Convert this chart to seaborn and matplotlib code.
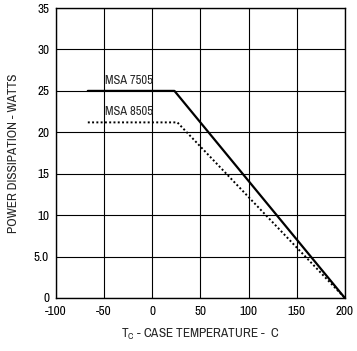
import matplotlib
matplotlib.use("Agg")
import matplotlib.pyplot as plt
import seaborn as sns
import pandas as pd

# Derating curves: case temperature (C) vs. maximum power dissipation (W)
temp_7505 = [-67, 23, 200]
power_7505 = [25.0, 25.0, 0.0]
temp_8505 = [-67, 26, 200]
power_8505 = [21.2, 21.2, 0.0]

x_ticks = [-100, -50, 0, 50, 100, 150, 200]
y_ticks = [0, 5, 10, 15, 20, 25, 30, 35]
y_tick_labels = ["0", "5.0", "10", "15", "20", "25", "30", "35"]

sns.set_theme(style="white")
plt.rcParams["font.family"] = ["Archivo Narrow", "DejaVu Sans"]
plt.rcParams["axes.unicode_minus"] = False

df_a = pd.DataFrame({"temp": temp_7505, "power": power_7505})
df_b = pd.DataFrame({"temp": temp_8505, "power": power_8505})

fig, ax = plt.subplots(figsize=(3.57, 3.51), dpi=100)
fig.subplots_adjust(left=0.157, right=0.966, top=0.977, bottom=0.151)

sns.lineplot(data=df_a, x="temp", y="power", ax=ax, color="black",
             linewidth=1.6, estimator=None, sort=False)
sns.lineplot(data=df_b, x="temp", y="power", ax=ax, color="black",
             linewidth=1.4, linestyle=(0, (1, 1.2)), estimator=None, sort=False)

ax.text(-49, 25.6, "MSA 7505", fontsize=9, ha="left", va="bottom")
ax.text(-49, 21.8, "MSA 8505", fontsize=9, ha="left", va="bottom")

ax.set_xlim(-100, 200)
ax.set_ylim(0, 35)
ax.set_xticks(x_ticks)
ax.set_yticks(y_ticks)
ax.set_yticklabels(y_tick_labels)
ax.tick_params(labelsize=9.5, length=0, colors="black")
ax.tick_params(axis="x", pad=6)
ax.tick_params(axis="y", pad=5)
ax.grid(True, color="black", linewidth=0.8)
for s in ax.spines.values():
    s.set_color("black")
    s.set_linewidth(1.0)

ax.set_xlabel("T$_\\mathregular{C}$ - CASE TEMPERATURE -  C", fontsize=9.5, labelpad=7)
ax.set_ylabel("POWER DISSIPATION - WATTS", fontsize=9.5, labelpad=11)

fig.savefig("out.png", dpi=100)
